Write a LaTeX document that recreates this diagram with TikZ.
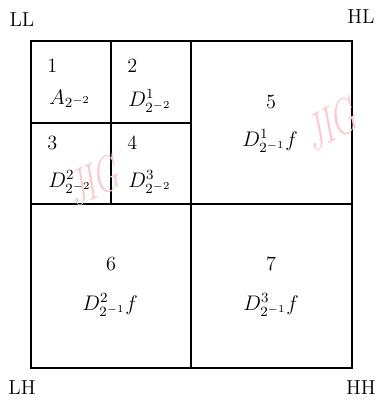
\documentclass[tikz,border=0pt]{standalone}
\usepackage{amsmath}
\usetikzlibrary{positioning}

\begin{document}
\begin{tikzpicture}[
    font=\fontsize{11.5}{13}\selectfont,
    cell/.style={draw, line width=0.85pt},
    num/.style={anchor=west, inner sep=0pt},
    coef/.style={anchor=west, inner sep=0pt},
    corner/.style={inner sep=0pt},
    stamp/.style={
        text=red!22,
        font=\fontsize{30}{30}\selectfont,
        xscale=0.6,
        inner sep=0pt
    }
]
\useasboundingbox (0,0) rectangle (7.52,8.04);

% ---------------- Grid ----------------
\draw[cell] (0.62,0.68) rectangle (7.04,7.22);
\draw[cell] (3.82,0.68) -- (3.82,7.22);
\draw[cell] (0.62,3.96) -- (7.04,3.96);
\draw[cell] (2.22,3.96) -- (2.22,7.22);
\draw[cell] (0.62,5.58) -- (3.82,5.58);

% ---------------- Watermarks ----------------
\node[stamp, rotate=15] (jig1) at (1.92,4.44) {JIG};
\node[stamp, rotate=18] (jig2) at (6.66,5.58) {JIG};

% ---------------- Corners ----------------
\node[corner] (ll) at (0.44,7.64) {LL};
\node[corner] (hl) at (7.22,7.70) {HL};
\node[corner] (lh) at (0.44,0.28) {LH};
\node[corner] (hh) at (7.22,0.28) {HH};

% ---------------- Level 2 ----------------
\node[num]  (n1) at (0.94,6.72) {1};
\node[coef] (c1) at (0.98,6.06) {$A_{2^{-2}}$};
\node[num]  (n2) at (2.54,6.72) {2};
\node[coef] (c2) at (2.56,6.02) {$D^{1}_{2^{-2}}$};
\node[num]  (n3) at (0.94,5.18) {3};
\node[coef] (c3) at (0.96,4.40) {$D^{2}_{2^{-2}}$};
\node[num]  (n4) at (2.54,5.18) {4};
\node[coef] (c4) at (2.56,4.40) {$D^{3}_{2^{-2}}$};

% ---------------- Level 1 ----------------
\node (n5) at (5.42,6.00) {5};
\node (c5) at (5.40,5.22) {$D^{1}_{2^{-1}}f$};
\node (n6) at (2.22,2.76) {6};
\node (c6) at (2.20,1.94) {$D^{2}_{2^{-1}}f$};
\node (n7) at (5.42,2.76) {7};
\node (c7) at (5.42,1.94) {$D^{3}_{2^{-1}}f$};

\end{tikzpicture}
\end{document}
